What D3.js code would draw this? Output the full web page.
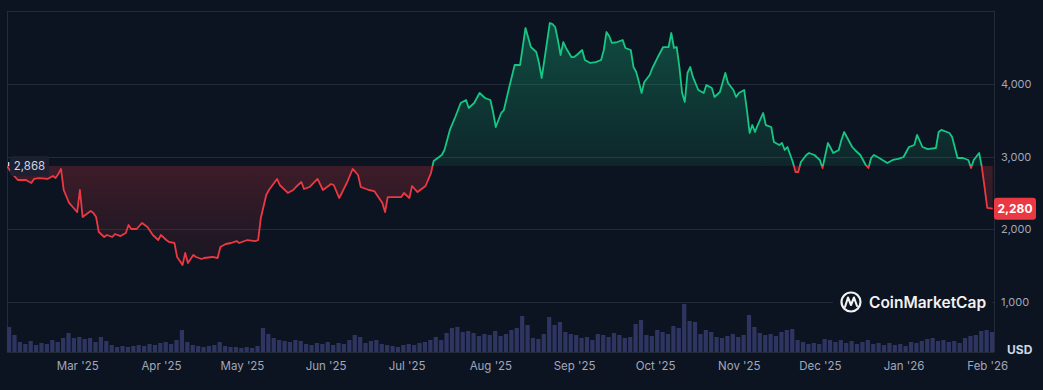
<!DOCTYPE html>
<html><head><meta charset="utf-8">
<script src="https://cdn.jsdelivr.net/npm/d3@7"></script>
<style>
body{margin:0;background:#0d1421;}
svg{display:block;font-family:Inter,"Noto Sans",sans-serif;}
</style>
</head><body>
<svg id="chart" width="1043" height="390"></svg>
<script>
// ---- data ----
const startDate = "2025-02-03";
const endDayOffset = 365.5;
const priceDays = [
  0,2,4,7,9,10,12,15,17,18,
  19,20,21,23,25,26,27,28,29,31,
  32,33,34,36,37,39,40,42,44,45,
  46,48,50,52,54,56,57,59,60,62,
  63,65,66,67,69,70,72,73,76,78,
  79,81,83,85,86,89,92,93,94,96,
  97,100,101,104,106,107,109,110,112,115,
  117,120,121,123,124,126,128,130,131,134,
  136,139,140,141,144,146,147,149,150,152,
  154,155,157,158,159,161,162,164,166,168,
  170,171,173,175,177,179,180,181,183,184,
  186,188,190,192,194,196,197,198,199,201,
  202,203,204,205,206,207,209,210,211,213,
  214,216,218,220,221,222,223,224,226,228,
  229,231,232,233,234,235,236,238,239,241,
  243,245,246,247,248,249,250,251,252,253,
  254,256,258,259,261,262,264,266,267,269,
  270,271,273,274,275,276,277,278,280,281,
  283,284,286,287,288,289,291,292,293,294,
  296,297,299,301,302,304,305,306,308,309,
  310,311,313,314,316,318,319,320,321,323,
  326,328,330,332,334,336,337,339,341,344,
  345,346,349,350,352,354,356,357,358,360,
  361,362,363,365
];
const prices = [
  2868,2759,2676,2676,2634,2690,2703,2690,2731,2703,
  2759,2828,2538,2359,2276,2234,2538,2165,2193,2248,
  2221,2165,1959,1890,1917,1890,1931,1903,1945,2055,
  2000,2000,2083,2028,1917,1848,1917,1848,1821,1807,
  1614,1503,1669,1531,1641,1614,1586,1600,1614,1600,
  1752,1793,1807,1834,1807,1848,1834,1848,2152,2469,
  2538,2690,2607,2497,2538,2579,2648,2552,2579,2690,
  2538,2621,2607,2428,2497,2648,2828,2745,2579,2538,
  2524,2359,2234,2441,2441,2441,2497,2428,2593,2510,
  2566,2593,2772,2938,2966,3021,3090,3366,3545,3738,
  3779,3669,3738,3876,3807,3779,3614,3407,3600,3641,
  3959,4262,4262,4772,4510,4441,4290,4083,4331,4841,
  4827,4786,4607,4400,4579,4497,4372,4372,4400,4469,
  4331,4290,4303,4331,4469,4717,4662,4566,4579,4607,
  4497,4469,4234,4166,4028,3876,4028,4124,4221,4372,
  4510,4510,4703,4497,4510,4234,3876,3752,4152,4234,
  4097,3917,3876,3986,3945,3821,3890,4152,4014,3917,
  3821,3876,3917,3641,3324,3434,3338,3434,3600,3434,
  3407,3200,3159,3186,3090,3131,2924,2786,2786,2924,
  3021,3048,3021,2952,2841,3186,3117,3048,3090,3228,
  3338,3269,3131,3090,3021,2883,2841,2979,3021,2979,
  2910,2952,2966,2993,3131,3159,3297,3131,3103,3117,
  3338,3366,3324,3269,2979,2979,2952,2841,2952,3048,
  2855,2579,2290,2280
];
const baselinePrice = 2868;
const lastPrice = 2280;
const volumeStepDays = 2;
const volumes = [
  25,17,10,8,11,7,9,8,12,10,
  14,19,14,15,13,14,10,15,11,7,
  5,6,5,6,7,6,8,7,9,10,
  8,12,22,10,7,6,5,6,7,10,
  6,5,5,4,5,4,6,24,18,14,
  12,11,10,12,11,8,7,9,8,10,
  7,9,8,12,17,15,9,11,12,8,
  7,6,5,7,8,7,9,10,12,15,
  12,19,24,25,20,21,19,16,18,17,
  21,16,18,22,24,36,27,14,13,18,
  35,27,30,20,18,17,14,15,12,18,
  17,15,19,17,14,15,28,32,17,16,
  22,20,18,26,24,48,31,30,18,22,
  20,15,14,16,18,15,17,37,25,19,
  17,18,16,20,22,23,12,10,8,9,
  8,13,12,10,12,9,11,8,10,12,
  8,9,7,9,7,8,6,10,9,11,
  13,14,11,12,10,11,9,14,16,17,
  21,22,20
];
const yTicks = [1000, 2000, 3000, 4000];
const monthTicks = ["2025-03-01","2025-04-01","2025-05-01","2025-06-01","2025-07-01","2025-08-01",
  "2025-09-01","2025-10-01","2025-11-01","2025-12-01","2026-01-01","2026-02-01"];
const monthLabels = ["Mar '25","Apr '25","May '25","Jun '25","Jul '25","Aug '25",
  "Sep '25","Oct '25","Nov '25","Dec '25","Jan '26","Feb '26"];

// ---- layout ----
const L = 7, R = 994, T = 11, B = 352;
const GREEN = "#16c784", RED = "#ea3943", BG = "#0d1421", GRID = "#232a38";

const parse = d3.utcParse("%Y-%m-%d");
const t0 = parse(startDate);
const dayDate = d => new Date(t0.getTime() + d * 864e5);

const x = d3.scaleUtc().domain([t0, dayDate(endDayOffset)]).range([L, R]);
const y = d3.scaleLinear().domain([1000, 4000]).range([301.5, 84]);
const yv = d3.scaleLinear().domain([0, 48]).range([B, B - 48]);

const data = priceDays.map((d, i) => ({date: dayDate(d), v: prices[i]}));
const volData = volumes.map((v, i) => ({date: dayDate(i * volumeStepDays), v}));

const svg = d3.select("#chart");
svg.append("rect").attr("width", 1043).attr("height", 390).attr("fill", BG);

const defs = svg.append("defs");
const yBase = y(baselinePrice);
defs.append("clipPath").attr("id", "above").append("rect")
  .attr("x", L).attr("y", 0).attr("width", R - L + 2).attr("height", yBase);
defs.append("clipPath").attr("id", "below").append("rect")
  .attr("x", L).attr("y", yBase).attr("width", R - L + 2).attr("height", 390 - yBase);

const gG = defs.append("linearGradient").attr("id", "gG").attr("gradientUnits", "userSpaceOnUse")
  .attr("x1", 0).attr("x2", 0).attr("y1", 20).attr("y2", yBase);
gG.append("stop").attr("offset", 0).attr("stop-color", GREEN).attr("stop-opacity", 0.32);
gG.append("stop").attr("offset", 1).attr("stop-color", GREEN).attr("stop-opacity", 0.1);
const gR = defs.append("linearGradient").attr("id", "gR").attr("gradientUnits", "userSpaceOnUse")
  .attr("x1", 0).attr("x2", 0).attr("y1", yBase).attr("y2", 275);
gR.append("stop").attr("offset", 0).attr("stop-color", RED).attr("stop-opacity", 0.22);
gR.append("stop").attr("offset", 1).attr("stop-color", RED).attr("stop-opacity", 0.03);

// grid
svg.append("g").selectAll("line").data(yTicks).join("line")
  .attr("x1", L).attr("x2", R).attr("y1", d => Math.round(y(d)) + 0.5).attr("y2", d => Math.round(y(d)) + 0.5)
  .attr("stroke", GRID).attr("stroke-width", 1);
// frame
svg.append("line").attr("x1", L).attr("x2", R).attr("y1", T + 0.5).attr("y2", T + 0.5).attr("stroke", GRID);
svg.append("line").attr("x1", L).attr("x2", R).attr("y1", B + 0.5).attr("y2", B + 0.5).attr("stroke", GRID);
svg.append("line").attr("x1", L + 0.5).attr("x2", L + 0.5).attr("y1", T).attr("y2", B).attr("stroke", GRID);
svg.append("line").attr("x1", R + 0.5).attr("x2", R + 0.5).attr("y1", T).attr("y2", B).attr("stroke", GRID);

// volume
const bw = x(dayDate(volumeStepDays)) - x(dayDate(0));
svg.append("g").selectAll("rect").data(volData).join("rect")
  .attr("x", d => x(d.date)).attr("width", Math.max(1, bw - 1.2))
  .attr("y", d => yv(d.v)).attr("height", d => B - yv(d.v))
  .attr("fill", "#2f3561");

// area + line
const area = d3.area().x(d => x(d.date)).y0(yBase).y1(d => y(d.v));
const line = d3.line().x(d => x(d.date)).y(d => y(d.v));
svg.append("path").datum(data).attr("d", area).attr("fill", "url(#gG)").attr("clip-path", "url(#above)");
svg.append("path").datum(data).attr("d", area).attr("fill", "url(#gR)").attr("clip-path", "url(#below)");
svg.append("path").datum(data).attr("d", line).attr("fill", "none").attr("stroke", GREEN)
  .attr("stroke-width", 1.8).attr("stroke-linejoin", "round").attr("clip-path", "url(#above)");
svg.append("path").datum(data).attr("d", line).attr("fill", "none").attr("stroke", RED)
  .attr("stroke-width", 1.8).attr("stroke-linejoin", "round").attr("clip-path", "url(#below)");

// right axis
const yAxis = d3.axisRight(y).tickValues(yTicks).tickSize(0).tickPadding(0).tickFormat(d3.format(","));
const ga = svg.append("g").attr("transform", `translate(${R + 7},0)`).call(yAxis);
ga.select(".domain").remove();
ga.selectAll("text").attr("fill", "#a1a7bb").attr("font-size", 11).attr("font-family", "Inter, sans-serif");
svg.append("text").attr("x", 1007).attr("y", 350).attr("dy", "0.35em").text("USD")
  .attr("fill", "#cfd6e4").attr("font-size", 12).attr("font-weight", 700);

// x axis
const xAxis = d3.axisBottom(x).tickValues(monthTicks.map(parse)).tickSize(0).tickPadding(0)
  .tickFormat((d, i) => monthLabels[i]);
const gx = svg.append("g").attr("transform", `translate(0,${362})`).call(xAxis);
gx.select(".domain").remove();
gx.selectAll("text").attr("fill", "#a1a7bb").attr("font-size", 11.5).attr("font-family", "Inter, sans-serif");

// last price tag
const yl = y(lastPrice);
svg.append("rect").attr("x", R).attr("y", yl - 11).attr("width", 42).attr("height", 22).attr("rx", 3).attr("fill", RED);
svg.append("text").attr("x", R + 21).attr("y", yl).attr("dy", "0.35em").attr("text-anchor", "middle")
  .attr("fill", "#fff").attr("font-size", 12).attr("font-weight", 700).text(d3.format(",")(lastPrice));

// baseline tag
svg.append("rect").attr("x", 10).attr("y", yBase - 10).attr("width", 39).attr("height", 20).attr("rx", 3)
  .attr("fill", "#1b2130").attr("opacity", 0.95);
svg.append("rect").attr("x", 8).attr("y", yBase - 4).attr("width", 1.3).attr("height", 4).attr("fill", "#cfd6e4");
svg.append("text").attr("x", 29.5).attr("y", yBase).attr("dy", "0.35em").attr("text-anchor", "middle")
  .attr("fill", "#cfd6e4").attr("font-size", 11.5).text(d3.format(",")(baselinePrice));

// watermark
const wm = svg.append("g");
wm.append("rect").attr("x", 833).attr("y", 290).attr("width", 159).attr("height", 24).attr("fill", BG);
wm.append("circle").attr("cx", 851).attr("cy", 302).attr("r", 9.5).attr("fill", "none")
  .attr("stroke", "#f2f2f2").attr("stroke-width", 2.2);
wm.append("path").attr("d", "M845,307 L848,297.5 L851,305 L854,297.5 L857,306")
  .attr("fill", "none").attr("stroke", "#f2f2f2").attr("stroke-width", 2.1).attr("stroke-linejoin", "round").attr("stroke-linecap", "round");
wm.append("text").attr("x", 869).attr("y", 302).attr("dy", "0.36em").text("CoinMarketCap")
  .attr("fill", "#f2f2f2").attr("font-size", 15.5).attr("font-weight", 600);
</script>
</body></html>
